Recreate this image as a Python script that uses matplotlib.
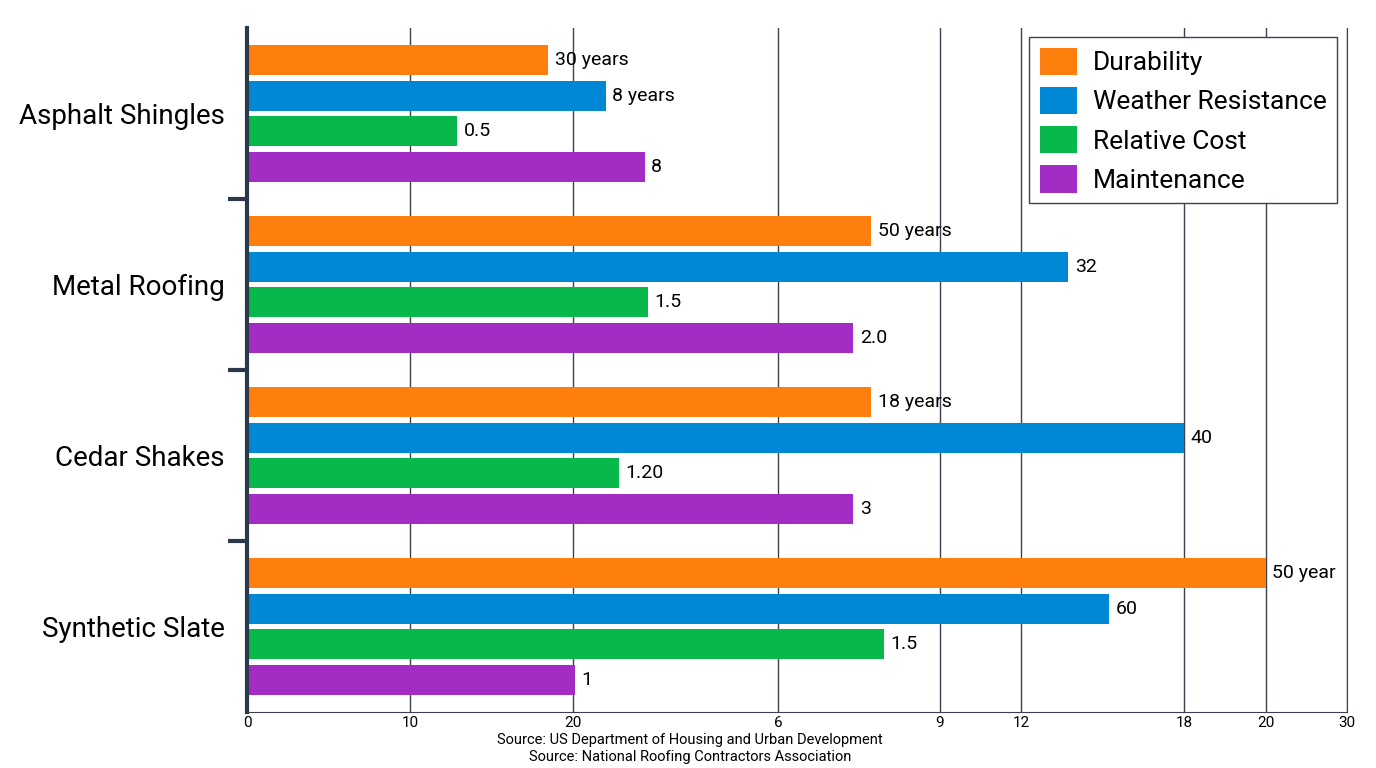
import matplotlib.pyplot as plt
import numpy as np

plt.rcParams['font.family'] = ['Roboto', 'DejaVu Sans']

categories = ["Asphalt Shingles", "Metal Roofing", "Cedar Shakes", "Synthetic Slate"]
series = ["Durability", "Weather Resistance", "Relative Cost", "Maintenance"]
colors = ["#FF7F0E", "#0088D6", "#08B84A", "#A32CC4"]
# bar lengths on the drawn axis scale
values = {
    "Durability": [18.5, 38.3, 38.3, 62.5],
    "Weather Resistance": [22.0, 50.4, 57.5, 52.9],
    "Relative Cost": [12.9, 24.6, 22.8, 39.1],
    "Maintenance": [24.4, 37.2, 37.2, 20.1],
}
labels = {
    "Durability": ["30 years", "50 years", "18 years", "50 year"],
    "Weather Resistance": ["8 years", "32", "40", "60"],
    "Relative Cost": ["0.5", "1.5", "1.20", "1.5"],
    "Maintenance": ["8", "2.0", "3", "1"],
}
tick_pos = [0, 10, 20, 32.6, 42.5, 47.5, 57.5, 62.5, 67.5]
tick_lab = ["0", "10", "20", "6", "9", "12", "18", "20", "30"]

fig = plt.figure(figsize=(13.76, 7.68), dpi=100)
ax = fig.add_axes([247/1376, 1-712/768, 1100/1376, 684/768])
for i, cat in enumerate(categories):
    for j, s in enumerate(series):
        y = i + (j - 1.5) * (36/172)
        v = values[s][i]
        ax.barh(y, v, height=30/172, color=colors[j], label=s if i == 0 else None)
        ax.text(v + 0.4, y, labels[s][i], va="center", ha="left", fontsize=14)
ax.set_ylim(3.5, -0.5)
ax.set_xlim(0, 67.5)
ax.set_yticks(range(4))
ax.set_yticklabels(categories, fontsize=20)
ax.tick_params(axis="y", length=0, pad=16)
ax.set_yticks([0.5, 1.5, 2.5], minor=True)
ax.tick_params(axis="y", which="minor", length=14, width=3, color="#2b3a4a")
ax.set_xticks(tick_pos)
ax.set_xticklabels(tick_lab, fontsize=11)
ax.tick_params(axis="x", length=0, pad=3)
ax.grid(axis="x", color="#3a4250", linewidth=1)
ax.set_axisbelow(True)
ax.spines["top"].set_visible(False)
ax.spines["right"].set_color("#3a4250")
ax.spines["left"].set_linewidth(3)
ax.spines["left"].set_color("#2b3a4a")
ax.spines["bottom"].set_color("#3a4250")
leg = ax.legend(loc="upper right", fontsize=19, frameon=True, fancybox=False,
                edgecolor="#3a4250", handlelength=1.4, handleheight=1.2,
                handletextpad=0.6, borderaxespad=0.0,
                bbox_to_anchor=((1337-247)/1100, (712-37)/684),
                framealpha=1, labelspacing=0.45)
leg.get_frame().set_linewidth(1)
fig.text(690/1376, 1-740/768, "Source: US Department of Housing and Urban Development",
         ha="center", va="center", fontsize=10.5)
fig.text(690/1376, 1-757/768, "Source: National Roofing Contractors Association",
         ha="center", va="center", fontsize=10.5)
fig.savefig("out.png", dpi=100)
